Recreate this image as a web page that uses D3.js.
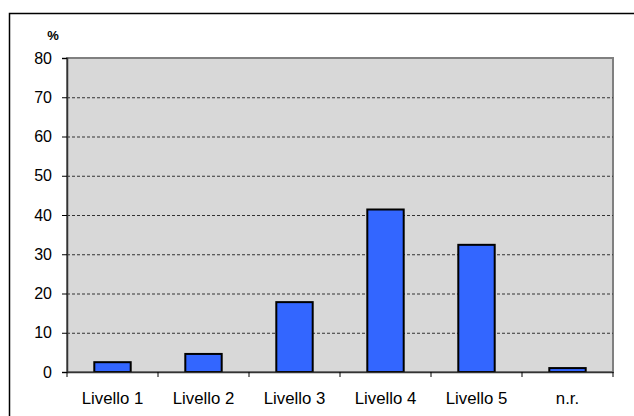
<!DOCTYPE html>
<html lang="it">
<head>
    <meta charset="UTF-8">
    <title>Livelli</title>
    <script src="https://d3js.org/d3.v7.min.js"></script>
    <style>
        html, body { margin: 0; background: #fff; overflow: hidden; }
        svg { display: block; }
        text { font-family: "Liberation Sans", Arial, sans-serif; }
    </style>
</head>
<body>
<script>
    var categories = ["Livello 1", "Livello 2", "Livello 3", "Livello 4", "Livello 5", "n.r."];
    var values = [2.5, 4.6, 17.8, 41.4, 32.4, 1.0];
    var yTicks = [0, 10, 20, 30, 40, 50, 60, 70, 80];

    var W = 634, H = 416;
    var margin = {top: 58, right: 21, bottom: 44, left: 67},
        width = W - margin.left - margin.right,
        height = H - margin.top - margin.bottom;

    var svg = d3.select("body").append("svg")
        .attr("width", W)
        .attr("height", H);

    // outer frame: only top and left edges are inside the picture
    svg.append("path")
        .attr("d", "M9.5," + H + "V13.5H" + W)
        .attr("fill", "none")
        .attr("stroke", "#000")
        .attr("stroke-width", 1.5);

    var g = svg.append("g")
        .attr("transform", "translate(" + margin.left + "," + margin.top + ")");

    var xScale = d3.scaleBand().domain(categories).range([0, width]).paddingInner(0.6).paddingOuter(0.3);
    var xTickScale = d3.scaleBand().domain(categories).range([0, width]);
    var yScale = d3.scaleLinear().domain([0, 80]).range([height, 0]);

    // plot area
    g.append("rect")
        .attr("width", width).attr("height", height)
        .attr("fill", "#d8d8d8")
        .attr("stroke", "#808080")
        .attr("stroke-width", 2);

    // gridlines
    g.selectAll(".grid")
        .data(yTicks.filter(d => d > 0 && d < 80))
        .enter().append("line")
        .attr("x1", 0).attr("x2", width)
        .attr("y1", d => yScale(d) + 0.5).attr("y2", d => yScale(d) + 0.5)
        .attr("stroke", "#333")
        .attr("stroke-width", 1)
        .attr("stroke-dasharray", "3,2");

    // bars
    g.selectAll(".bar")
        .data(values)
        .enter().append("rect")
        .attr("x", (d, i) => xScale(categories[i]))
        .attr("y", d => yScale(d))
        .attr("width", xScale.bandwidth())
        .attr("height", d => height - yScale(d))
        .attr("fill", "#3366ff")
        .attr("stroke", "#000")
        .attr("stroke-width", 2);

    // y axis
    var yAxis = g.append("g")
        .call(d3.axisLeft(yScale).tickValues(yTicks).tickSize(5).tickPadding(10));
    yAxis.select(".domain").attr("stroke", "#333").attr("stroke-width", 1.5);
    yAxis.selectAll(".tick line").attr("stroke", "#000");
    yAxis.selectAll("text")
        .style("font-size", "16px")
        .attr("fill", "#000");

    // x axis
    var xAxis = g.append("g")
        .attr("transform", "translate(0," + height + ")")
        .call(d3.axisBottom(xTickScale).tickSize(0).tickPadding(20));
    xAxis.select(".domain").attr("stroke", "#333").attr("stroke-width", 1.5);
    xAxis.selectAll("text")
        .style("font-size", "16.8px")
        .attr("fill", "#000");
    // category separators
    g.selectAll(".xtick")
        .data(d3.range(categories.length + 1))
        .enter().append("line")
        .attr("x1", i => i * xTickScale.step()).attr("x2", i => i * xTickScale.step())
        .attr("y1", height).attr("y2", height + 5)
        .attr("stroke", "#000");

    // unit label
    svg.append("text")
        .attr("x", 53).attr("y", 40)
        .attr("text-anchor", "middle")
        .style("font-size", "13px")
        .style("font-weight", "bold")
        .text("%");
</script>
</body>
</html>
